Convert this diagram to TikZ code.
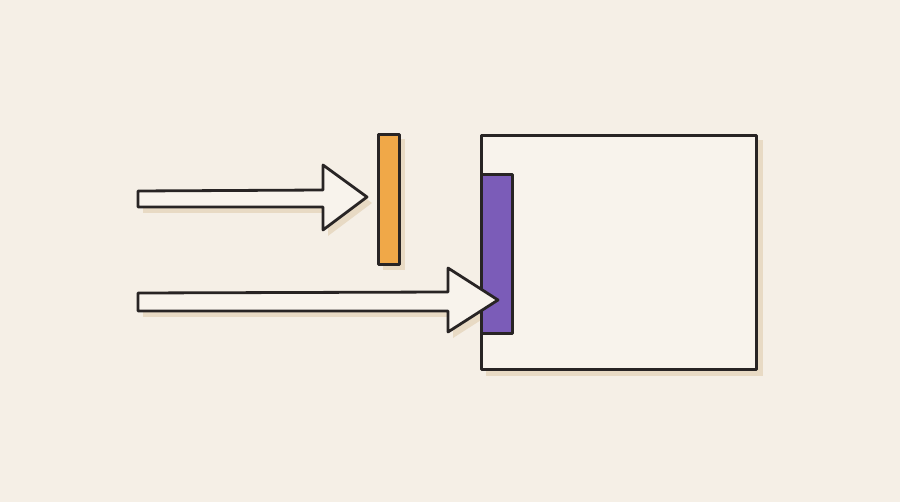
\documentclass[tikz,border=0pt]{standalone}
\definecolor{bgc}{RGB}{245,239,230}
\definecolor{shadowc}{RGB}{232,218,196}
\definecolor{paperc}{RGB}{248,243,236}
\definecolor{orangec}{RGB}{240,168,72}
\definecolor{purplec}{RGB}{123,92,184}
\definecolor{inkc}{RGB}{40,36,36}
\begin{document}
\begin{tikzpicture}[x=1pt,y=-1pt,
  ink/.style={draw=inkc, line width=2.8pt, line join=round, line cap=round},
  shadowfill/.style={fill=shadowc, draw=none},
]
\fill[bgc] (0,0) rectangle (900,502);
\useasboundingbox (0,0) rectangle (900,502);
% shadows
\fill[shadowfill] (486,140) rectangle (763,376);
\fill[shadowfill] (383,139) rectangle (405,270);
\fill[shadowfill] (143,197) -- (328,196) -- (328,171) -- (372,203) -- (328,236) -- (328,213) -- (143,213) -- cycle;
\fill[shadowfill] (143,299) -- (453,298) -- (453,274) -- (503,306) -- (453,338) -- (453,317) -- (143,317) -- cycle;
% box
\node[ink, fill=paperc, minimum width=275pt, minimum height=234pt, inner sep=0pt, anchor=north west] (box) at (480,134) {};
\node[ink, fill=purplec, minimum width=31pt, minimum height=159pt, inner sep=0pt, anchor=north west] (plate) at (480,173) {};
% orange bar
\node[ink, fill=orangec, minimum width=21pt, minimum height=130pt, inner sep=0pt, anchor=north west] (bar) at (377,133) {};
% arrows
\coordinate (a1t) at (367,197);
\draw[ink, fill=paperc] (138,191) -- (323,190) -- (323,165) -- (a1t) -- (323,230) -- (323,207) -- (138,207) -- cycle;
\coordinate (a2t) at (498,300);
\draw[ink, fill=paperc] (138,293) -- (448,292) -- (448,268) -- (a2t) -- (448,332) -- (448,311) -- (138,311) -- cycle;
\end{tikzpicture}
\end{document}
